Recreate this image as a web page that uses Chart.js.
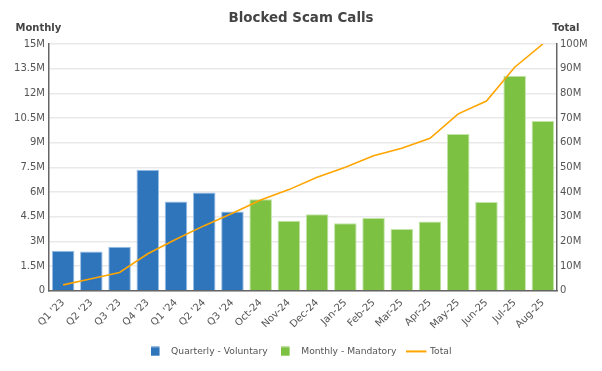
<!DOCTYPE html>
<html>
<head>
<meta charset="utf-8">
<script src="https://cdn.jsdelivr.net/npm/chart.js@4.4.1/dist/chart.umd.min.js"></script>
<style>
html,body{margin:0;padding:0;background:#fff;}
#wrap{width:602px;height:371px;}
</style>
</head>
<body>
<div id="wrap"><canvas id="c" width="602" height="371"></canvas></div>
<script>
const categories = ["Q1 '23","Q2 '23","Q3 '23","Q4 '23","Q1 '24","Q2 '24","Q3 '24","Oct-24","Nov-24","Dec-24","Jan-25","Feb-25","Mar-25","Apr-25","May-25","Jun-25","Jul-25","Aug-25"];
// values in millions
const quarterlyVoluntary = [2.43,2.39,2.67,7.35,5.42,5.97,4.82,null,null,null,null,null,null,null,null,null,null,null];
const monthlyMandatory = [null,null,null,null,null,null,null,5.57,4.25,4.66,4.11,4.43,3.75,4.21,9.53,5.40,13.07,10.32];
const totalCumulative = [2.4,4.9,7.4,15.0,20.9,26.4,31.4,36.8,41.0,46.0,50.1,54.7,57.8,61.8,71.7,76.9,90.6,100.0];
const leftTicks = {min:0, max:15, step:1.5};
const rightTicks = {min:0, max:100, step:10};

const BLUE = '#2f75bc', GREEN = '#7dc142', ORANGE = '#ffa500';
const FONT = "'DejaVu Sans', Verdana, sans-serif";

function legendImg(kind, color){
  const cv = document.createElement('canvas');
  if(kind === 'rect'){
    cv.width = 16; cv.height = 10;
    const g = cv.getContext('2d');
    g.fillStyle = color; g.fillRect(0,0.5,9,9);
  } else {
    cv.width = 22; cv.height = 10;
    const g = cv.getContext('2d');
    g.strokeStyle = color; g.lineWidth = 2; g.beginPath(); g.moveTo(0,5); g.lineTo(20,5); g.stroke();
  }
  return cv;
}
const legendStyles = [legendImg('rect',BLUE), legendImg('rect',GREEN), legendImg('line',ORANGE)];

const textPlugin = {
  id:'texts',
  afterDraw(chart){
    const ctx = chart.ctx;
    ctx.save();
    ctx.fillStyle = '#444';
    ctx.textBaseline = 'alphabetic';
    ctx.font = "bold 13.4px " + FONT;
    ctx.textAlign = 'center';
    ctx.fillText('Blocked Scam Calls', 301, 22);
    ctx.font = "bold 10px " + FONT;
    ctx.textAlign = 'left';
    ctx.fillText('Monthly', 15.5, 30.5);
    ctx.textAlign = 'right';
    ctx.fillText('Total', 579.5, 30.5);
    ctx.restore();
  }
};

const tickFmt = v => v === 0 ? '0' : (Math.round(v*10)/10) + 'M';

new Chart(document.getElementById('c'), {
  data: {
    labels: categories,
    datasets: [
      {type:'line', label:'Total', data: totalCumulative, yAxisID:'y2', borderColor: ORANGE, backgroundColor: ORANGE, borderWidth: 1.6, pointRadius: 0, tension: 0, order: 0},
      {type:'bar', label:'Quarterly - Voluntary', data: quarterlyVoluntary, yAxisID:'y', backgroundColor: BLUE, borderColor: '#9cc0e6', borderWidth: 1, grouped:false, barPercentage:0.8, categoryPercentage:1, order: 1},
      {type:'bar', label:'Monthly - Mandatory', data: monthlyMandatory, yAxisID:'y', backgroundColor: GREEN, borderColor: '#c2e4a6', borderWidth: 1, grouped:false, barPercentage:0.8, categoryPercentage:1, order: 1}
    ]
  },
  options: {
    responsive:false,
    animation:false,
    layout:{padding:{top:44, left:0, right:0, bottom:5}},
    plugins:{
      title:{display:false},
      tooltip:{enabled:false},
      legend:{
        position:'bottom',
        labels:{
          usePointStyle:true,
          pointStyleWidth:16,
          boxHeight:9,
          padding:13,
          color:'#555',
          font:{family:FONT, size:9.2},
          generateLabels(chart){
            const order = [1,2,0];
            return order.map((di,i)=>({
              text: chart.data.datasets[di].label,
              datasetIndex: di,
              pointStyle: legendStyles[i],
              fillStyle: chart.data.datasets[di].backgroundColor,
              strokeStyle: chart.data.datasets[di].borderColor,
              lineWidth: 0,
              fontColor:'#555',
              hidden:false
            }));
          }
        }
      }
    },
    scales:{
      x:{
        grid:{display:false, drawTicks:false},
        border:{display:true, color:'#666', width:1.5},
        ticks:{autoSkip:false, minRotation:45, maxRotation:45, padding:6, color:'#555', font:{family:FONT, size:10}},
        afterFit(s){ s.height = 43; }
      },
      y:{
        position:'left',
        min:leftTicks.min, max:leftTicks.max,
        ticks:{stepSize:leftTicks.step, color:'#555', padding:4, font:{family:FONT, size:10}, callback: tickFmt},
        grid:{color:'#e9e9e9', lineWidth:1.5, drawTicks:false},
        border:{display:true, color:'#666', width:1.5},
        afterFit(s){ s.width = 49; }
      },
      y2:{
        position:'right',
        min:rightTicks.min, max:rightTicks.max,
        ticks:{stepSize:rightTicks.step, color:'#555', padding:3, font:{family:FONT, size:10}, callback: tickFmt},
        grid:{display:false, drawTicks:false},
        border:{display:true, color:'#666', width:1.5},
        afterFit(s){ s.width = 45; }
      }
    }
  },
  plugins:[textPlugin]
});
</script>
</body>
</html>
